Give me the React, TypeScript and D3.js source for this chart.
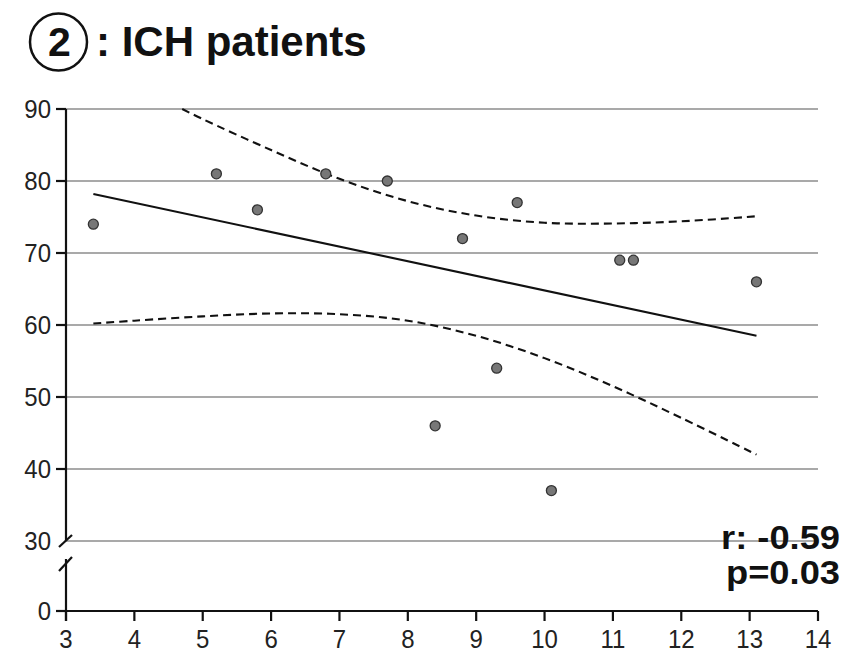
import { curveCatmullRom, line, scaleLinear, select } from 'd3'
import { useEffect, useRef } from 'react'

// scatter points (x, y)
const pointX = [3.4, 5.2, 5.8, 6.8, 7.7, 8.4, 8.8, 9.3, 9.6, 10.1, 11.1, 11.3, 13.1]
const pointY = [74, 81, 76, 81, 80, 46, 72, 54, 77, 37, 69, 69, 66]

// regression line ends
const fitX = [3.4, 13.1]
const fitY = [78.2, 58.5]

// 95% confidence band
const upperX = [4.7, 5, 6, 7, 8, 9, 10, 11, 12, 13.1]
const upperY = [90, 88.6, 84.3, 80.3, 77.2, 75.2, 74.2, 74.1, 74.4, 75.1]
const lowerX = [3.4, 4, 5, 6, 7, 8, 9, 10, 11, 12, 13.1]
const lowerY = [60.2, 60.6, 61.2, 61.6, 61.5, 60.6, 58.5, 55.4, 51.5, 47.1, 42.0]

const xTicks = [3, 4, 5, 6, 7, 8, 9, 10, 11, 12, 13, 14]
const yTicks = [0, 30, 40, 50, 60, 70, 80, 90]
const gridTicks = [30, 40, 50, 60, 70, 80, 90]

const title = ': ICH patients'
const rLabel = 'r: -0.59'
const pLabel = 'p=0.03'

const W = 853
const H = 652
const FONT = "'Liberation Sans', Arial, sans-serif"

export default function App() {
  const ref = useRef<SVGSVGElement>(null)

  useEffect(() => {
    if (!ref.current) return
    const svg = select(ref.current)
    svg.selectAll('*').remove()

    const x = scaleLinear().domain([3, 14]).range([66, 818])
    // broken axis: 0..30 squeezed, 30..90 full scale
    const y = scaleLinear().domain([0, 30, 90]).range([611, 541, 109])

    // title
    svg
      .append('circle')
      .attr('cx', 58.5)
      .attr('cy', 42)
      .attr('r', 28.5)
      .attr('fill', 'none')
      .attr('stroke', '#111')
      .attr('stroke-width', 2.5)
    svg
      .append('text')
      .attr('x', 59.5)
      .attr('y', 56)
      .attr('text-anchor', 'middle')
      .attr('font-family', FONT)
      .attr('font-weight', 'bold')
      .attr('font-size', 41)
      .attr('fill', '#111')
      .text('2')
    svg
      .append('text')
      .attr('x', 96)
      .attr('y', 56)
      .attr('font-family', FONT)
      .attr('font-weight', 'bold')
      .attr('font-size', 42)
      .attr('fill', '#111')
      .text(title)

    // gridlines
    svg
      .append('g')
      .selectAll('line')
      .data(gridTicks)
      .join('line')
      .attr('x1', x(3))
      .attr('x2', x(14))
      .attr('y1', (d) => y(d))
      .attr('y2', (d) => y(d))
      .attr('stroke', '#8c8c8c')
      .attr('stroke-width', 1.6)

    // y axis with break
    const ax = svg.append('g').attr('stroke', '#111').attr('stroke-width', 2.2)
    ax.append('line').attr('x1', x(3)).attr('x2', x(3)).attr('y1', y(90)).attr('y2', y(30))
    ax.append('line').attr('x1', x(3)).attr('x2', x(3)).attr('y1', y(0) + 10).attr('y2', y(30) + 18)
    ax.append('line').attr('x1', x(3) - 7).attr('x2', x(3) + 6).attr('y1', y(30) + 6).attr('y2', y(30) - 6)
    ax.append('line').attr('x1', x(3) - 7).attr('x2', x(3) + 6).attr('y1', y(30) + 30).attr('y2', y(30) + 16)
    ax
      .selectAll('.ytick')
      .data(yTicks.filter((d) => d !== 30))
      .join('line')
      .attr('x1', x(3) - 10)
      .attr('x2', x(3))
      .attr('y1', (d) => y(d))
      .attr('y2', (d) => y(d))

    // x axis
    ax.append('line').attr('x1', x(3)).attr('x2', x(14)).attr('y1', y(0)).attr('y2', y(0))
    ax
      .selectAll('.xtick')
      .data(xTicks)
      .join('line')
      .attr('x1', (d) => x(d))
      .attr('x2', (d) => x(d))
      .attr('y1', y(0))
      .attr('y2', y(0) + 10)

    // tick labels are a touch tall in the source
    svg
      .append('g')
      .selectAll('text')
      .data(yTicks)
      .join('text')
      .attr('transform', (d) => `translate(${x(3) - 15}, ${y(d) + 9}) scale(1, 1.08)`)
      .attr('text-anchor', 'end')
      .attr('font-family', FONT)
      .attr('font-size', 24)
      .attr('fill', '#222')
      .text((d) => d)

    svg
      .append('g')
      .selectAll('text')
      .data(xTicks)
      .join('text')
      .attr('transform', (d) => `translate(${x(d)}, 648) scale(1, 1.08)`)
      .attr('text-anchor', 'middle')
      .attr('font-family', FONT)
      .attr('font-size', 24)
      .attr('fill', '#222')
      .text((d) => d)

    // confidence band
    const curve = line<[number, number]>()
      .x((d) => x(d[0]))
      .y((d) => y(d[1]))
      .curve(curveCatmullRom)
    const upper = upperX.map((v, i) => [v, upperY[i]] as [number, number])
    const lower = lowerX.map((v, i) => [v, lowerY[i]] as [number, number])
    ;[upper, lower].forEach((pts) => {
      svg
        .append('path')
        .attr('d', curve(pts))
        .attr('fill', 'none')
        .attr('stroke', '#111')
        .attr('stroke-width', 2.1)
        .attr('stroke-dasharray', '8,5')
    })

    // regression line
    svg
      .append('line')
      .attr('x1', x(fitX[0]))
      .attr('y1', y(fitY[0]))
      .attr('x2', x(fitX[1]))
      .attr('y2', y(fitY[1]))
      .attr('stroke', '#111')
      .attr('stroke-width', 2.1)

    // points
    svg
      .append('g')
      .selectAll('circle')
      .data(pointX.map((v, i) => ({ x: v, y: pointY[i] })))
      .join('circle')
      .attr('cx', (d) => x(d.x))
      .attr('cy', (d) => y(d.y))
      .attr('r', 5)
      .attr('fill', '#777')
      .attr('stroke', '#333')
      .attr('stroke-width', 1.3)

    // stats
    const stats = svg
      .append('g')
      .attr('font-family', FONT)
      .attr('font-weight', 'bold')
      .attr('font-size', 33)
      .attr('fill', '#111')
      .attr('text-anchor', 'end')
    stats.append('text').attr('transform', 'translate(840, 549) scale(1.1, 1)').text(rLabel)
    stats.append('text').attr('transform', 'translate(840, 584) scale(1.1, 1)').text(pLabel)
  }, [])

  return (
    <svg
      ref={ref}
      width={W}
      height={H}
      style={{ position: 'absolute', left: 0, top: 0, background: '#fff' }}
    />
  )
}
